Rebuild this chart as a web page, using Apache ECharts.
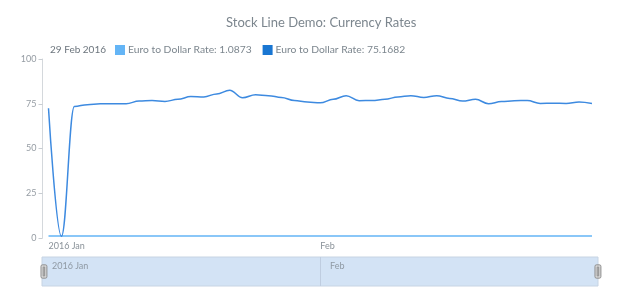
<!DOCTYPE html>
<html>
<head>
<meta charset="utf-8">
<script src="https://cdn.jsdelivr.net/npm/echarts@6/dist/echarts.min.js"></script>
<style>
  html, body { margin: 0; padding: 0; background: #fff; }
  #chart { width: 620px; height: 300px; }
</style>
</head>
<body>
<div id="chart"></div>
<script>
// trading days, Jan - Feb 2016
var dates = [
  '2016-01-01', '2016-01-04', '2016-01-05', '2016-01-06', '2016-01-07', '2016-01-08',
  '2016-01-11', '2016-01-12', '2016-01-13', '2016-01-14', '2016-01-15',
  '2016-01-18', '2016-01-19', '2016-01-20', '2016-01-21', '2016-01-22',
  '2016-01-25', '2016-01-26', '2016-01-27', '2016-01-28', '2016-01-29',
  '2016-02-01', '2016-02-02', '2016-02-03', '2016-02-04', '2016-02-05',
  '2016-02-08', '2016-02-09', '2016-02-10', '2016-02-11', '2016-02-12',
  '2016-02-15', '2016-02-16', '2016-02-17', '2016-02-18', '2016-02-19',
  '2016-02-22', '2016-02-23', '2016-02-24', '2016-02-25', '2016-02-26',
  '2016-02-28', '2016-02-29'
];
var euroRate = [
  1.0862, 1.0855, 1.0832, 1.0780, 1.0890, 1.0934, 1.0856, 1.0870, 1.0920, 1.0895, 1.0880,
  1.0890, 1.0888, 1.0893, 1.0913, 1.0843, 1.0860, 1.0870, 1.0821, 1.0887, 1.0939,
  1.0938, 1.0875, 1.0895, 1.0910, 1.1095, 1.1197, 1.1160, 1.1296, 1.1271, 1.1214,
  1.1202, 1.1105, 1.1120, 1.1133, 1.1138, 1.1090, 1.1025, 1.1013, 1.1020, 1.1005,
  1.0925, 1.0873
];
var euroRate2 = [
  72.5, 1.0, 73.5, 74.5, 75.0, 75.0, 75.0, 76.5, 76.8, 76.3, 77.5,
  79.0, 78.8, 80.5, 82.5, 78.3, 80.0, 79.5, 78.5, 76.8, 76.0,
  75.5, 77.5, 79.5, 76.7, 76.8, 77.5, 78.8, 79.5, 78.5, 79.5,
  78.0, 76.5, 77.5, 75.0, 76.2, 76.7, 76.8, 75.2, 75.3, 75.2,
  76.0, 75.1682
];
var yTicks = [0, 25, 50, 75, 100];

var months = ['Jan','Feb','Mar','Apr','May','Jun','Jul','Aug','Sep','Oct','Nov','Dec'];
function isMonthStart(i) {
  return i === 0 || dates[i].slice(5, 7) !== dates[i - 1].slice(5, 7);
}
function monthLabel(val, i) {
  var m = months[+val.slice(5, 7) - 1];
  return i === 0 ? val.slice(0, 4) + ' ' + m : m;
}
function fmtDate(s) {
  return +s.slice(8, 10) + ' ' + months[+s.slice(5, 7) - 1] + ' ' + s.slice(0, 4);
}

var name1 = 'Euro to Dollar Rate: ' + euroRate[euroRate.length - 1].toFixed(4);
var name2 = 'Euro to Dollar Rate: ' + euroRate2[euroRate2.length - 1].toFixed(4);
var gray = '#7c868e';
var font = 'Lato';

var chart = echarts.init(document.getElementById('chart'));
chart.setOption({
  animation: false,
  textStyle: { fontFamily: font },
  title: [{
    text: 'Stock Line Demo: Currency Rates',
    left: 221, top: 11,
    textStyle: { fontSize: 13, fontWeight: 'normal', color: gray, fontFamily: font }
  }, {
    text: fmtDate(dates[dates.length - 1]),
    left: 45, top: 40,
    textStyle: { fontSize: 10, fontWeight: 'normal', color: '#6c757d', fontFamily: font }
  }],
  legend: {
    left: 110, top: 40,
    icon: 'rect', itemWidth: 10, itemHeight: 10, itemGap: 11,
    textStyle: { fontSize: 10.3, color: gray, fontFamily: font, padding: [0, 0, 0, -2] },
    data: [name1, name2]
  },
  grid: [
    { left: 48.5, right: 28, top: 59, bottom: 62 },
    { left: 42, right: 22, top: 257, height: 29, show: true,
      backgroundColor: '#d3e3f5', borderColor: '#c7d4e3', borderWidth: 1 }
  ],
  xAxis: [{
    type: 'category', gridIndex: 0, data: dates, boundaryGap: false,
    axisLine: { show: false },
    axisTick: { show: false },
    axisLabel: {
      interval: function (i) { return isMonthStart(i); },
      formatter: monthLabel,
      align: 'left', margin: 4,
      fontSize: 9, color: '#8a9299', fontFamily: font
    }
  }, {
    type: 'category', gridIndex: 1, data: dates, boundaryGap: false,
    position: 'top',
    axisLine: { show: false },
    axisTick: { show: false },
    splitLine: {
      show: true,
      interval: function (i) { return i > 0 && isMonthStart(i); },
      lineStyle: { color: '#bfcde0', width: 1 }
    },
    axisLabel: {
      inside: true,
      interval: function (i) { return isMonthStart(i); },
      formatter: function (val, i) { return '{p|' + monthLabel(val, i) + '}'; },
      rich: { p: { padding: [0, 0, 0, 10], fontSize: 9, color: '#8f99a3', fontFamily: font } },
      align: 'left', verticalAlign: 'top', margin: 5,
      fontSize: 9, color: '#8f99a3', fontFamily: font
    }
  }],
  yAxis: [{
    type: 'value', gridIndex: 0,
    min: yTicks[0], max: yTicks[yTicks.length - 1], interval: 25,
    offset: 6,
    axisLine: { show: true, lineStyle: { color: '#d4d8dc' } },
    axisTick: { show: true, length: 4, lineStyle: { color: '#c8cdd2' } },
    splitLine: { show: false },
    axisLabel: { fontSize: 9, color: '#959ca3', margin: 6, fontFamily: font }
  }, {
    type: 'value', gridIndex: 1, show: false, min: 0, max: 1
  }],
  dataZoom: [{
    type: 'slider', xAxisIndex: [0],
    start: 0, end: 100,
    left: 42, right: 22, top: 257, height: 29,
    showDetail: false, showDataShadow: false, brushSelect: false,
    moveHandleSize: 0,
    backgroundColor: 'rgba(0,0,0,0)',
    fillerColor: 'rgba(0,0,0,0)',
    borderColor: 'rgba(0,0,0,0)',
    handleIcon: 'path://M2,0 h4 a2,2 0 0 1 2,2 v14 a2,2 0 0 1 -2,2 h-4 a2,2 0 0 1 -2,-2 v-14 a2,2 0 0 1 2,-2 z M3,3 h2 v12 h-2 z',
    handleSize: '46%',
    handleStyle: { color: '#d6d6d6', borderColor: '#8f8f8f', borderWidth: 1 },
    emphasis: { handleStyle: { color: '#d6d6d6', borderColor: '#8f8f8f' } }
  }],
  series: [{
    name: name1, type: 'line', data: euroRate,
    xAxisIndex: 0, yAxisIndex: 0,
    smooth: 0.4, smoothMonotone: 'x', showSymbol: false,
    color: '#64b5f6',
    lineStyle: { width: 1.5, color: '#64b5f6' }
  }, {
    name: name2, type: 'line', data: euroRate2,
    xAxisIndex: 0, yAxisIndex: 0,
    smooth: 0.4, smoothMonotone: 'x', showSymbol: false,
    color: '#1976d2',
    lineStyle: { width: 1.5, color: '#3d8ae0' }
  }]
});
</script>
</body>
</html>
